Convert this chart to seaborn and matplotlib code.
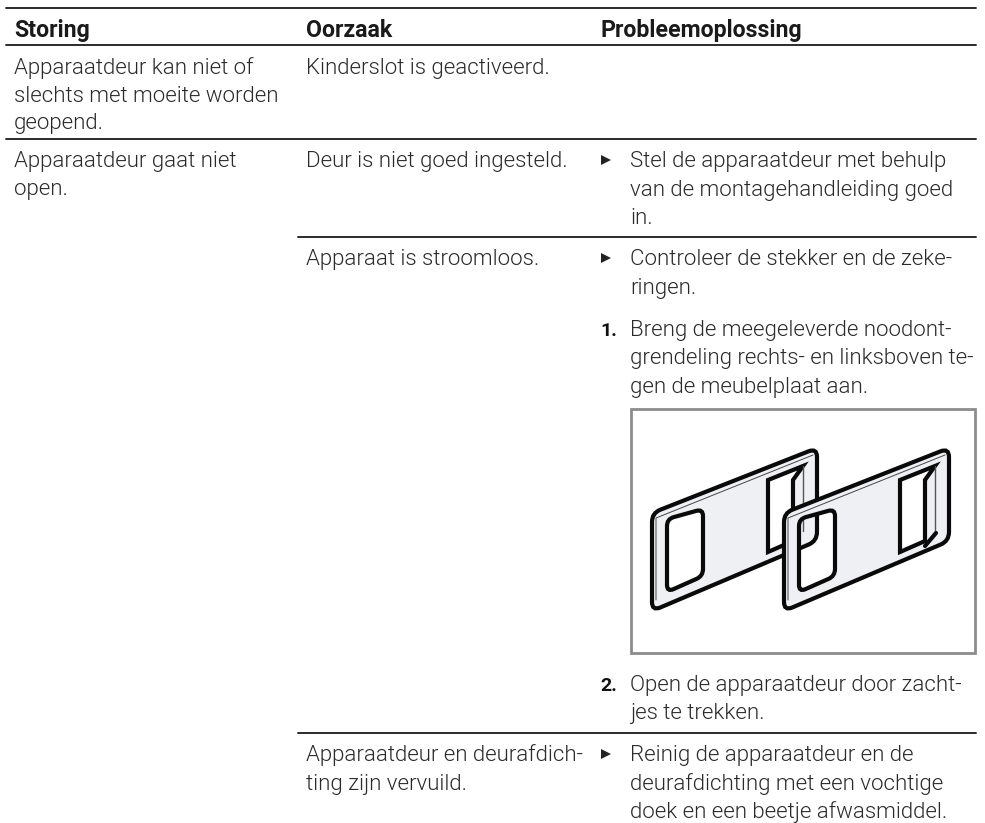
import matplotlib
matplotlib.use("Agg")
import matplotlib.pyplot as plt
import seaborn as sns
import pandas as pd
import numpy as np
from matplotlib.patches import Polygon, Rectangle, PathPatch
from matplotlib.path import Path

W, H = 985, 823
sns.set_theme(style="white")
plt.rcParams['font.family'] = ['Roboto', 'Liberation Sans', 'DejaVu Sans']

headers = ["Storing", "Oorzaak", "Probleemoplossing"]
header_x = [14, 306, 600]
col1 = [("Apparaatdeur kan niet of", 74), ("slechts met moeite worden", 102), ("geopend.", 129),
        ("Apparaatdeur gaat niet", 167), ("open.", 195)]
col2 = [("Kinderslot is geactiveerd.", 74), ("Deur is niet goed ingesteld.", 167),
        ("Apparaat is stroomloos.", 265), ("Apparaatdeur en deurafdich-", 761), ("ting zijn vervuild.", 790)]
col3 = [("Stel de apparaatdeur met behulp", 167), ("van de montagehandleiding goed", 196), ("in.", 224),
        ("Controleer de stekker en de zeke-", 265), ("ringen.", 294),
        ("Breng de meegeleverde noodont-", 336), ("grendeling rechts- en linksboven te-", 364),
        ("gen de meubelplaat aan.", 393),
        ("Open de apparaatdeur door zacht-", 691), ("jes te trekken.", 719),
        ("Reinig de apparaatdeur en de", 761), ("deurafdichting met een vochtige", 790),
        ("doek en een beetje afwasmiddel.", 818)]
bullets_y = [167, 265, 761]
numbers = [("1.", 336), ("2.", 691)]
rules = pd.DataFrame({
    "rule": ["top", "top", "head", "head", "r1", "r1", "r2", "r2", "r3", "r3"],
    "x": [6, 976, 6, 976, 6, 976, 298, 976, 298, 976],
    "y": [8, 8, 45, 45, 139, 139, 237, 237, 733, 733],
})

fig = plt.figure(figsize=(W / 100, H / 100), dpi=100)
ax = fig.add_axes([0, 0, 1, 1])
sns.lineplot(data=rules, x="x", y="y", units="rule", estimator=None, color="#2b2b2b", lw=1.4, ax=ax, legend=False)
ax.set_xlim(0, W)
ax.set_ylim(H, 0)
ax.axis("off")

TXT = "#2a2a2a"
FS = 16.0
WT = 300
for s, x in zip(headers, header_x):
    ax.text(x, 37, s, fontsize=16.7, fontweight="bold", color="#1a1a1a", va="baseline")
for s, y in col1:
    ax.text(14, y, s, fontsize=FS, fontweight=WT, color=TXT, va="baseline")
for s, y in col2:
    ax.text(306, y, s, fontsize=FS, fontweight=WT, color=TXT, va="baseline")
for s, y in col3:
    ax.text(630, y, s, fontsize=FS, fontweight=WT, color=TXT, va="baseline")
for s, y in numbers:
    ax.text(600, y, s, fontsize=FS - 2, fontweight="bold", color="#111111", va="baseline")
for y in bullets_y:
    ax.add_patch(Polygon([(601, y - 12), (601, y - 2), (611, y - 7)], closed=True, fc="#222222", ec="none"))

# illustration frame
ax.add_patch(Rectangle((631, 409), 344, 244, fc="white", ec="#8c8c8c", lw=2))


def rounded(pts, r):
    verts, codes = [], []
    n = len(pts)
    for i in range(n):
        p0 = np.array(pts[i - 1], float)
        p = np.array(pts[i], float)
        p1 = np.array(pts[(i + 1) % n], float)
        a = p + (p0 - p) / np.linalg.norm(p0 - p) * r
        b = p + (p1 - p) / np.linalg.norm(p1 - p) * r
        verts.append(a)
        codes.append(Path.MOVETO if i == 0 else Path.LINETO)
        verts += [p, b]
        codes += [Path.CURVE3, Path.CURVE3]
    verts.append(verts[0])
    codes.append(Path.CLOSEPOLY)
    return Path(verts, codes)


def plate(dx, z, tip):
    outer = [(652 + dx, 513), (817 + dx, 448), (817 + dx, 541), (652 + dx, 611)]
    hole_l = [(667 + dx, 519), (667 + dx, 592), (703 + dx, 576), (703 + dx, 509)]
    hole_r = [(768 + dx, 480), (768 + dx, 552), (793 + dx, 541), (793 + dx, 480), (803 + dx, 466)]
    path = Path.make_compound_path(rounded(outer, 9), rounded(hole_l, 7),
                                   Path(hole_r + [hole_r[0]],
                                        [Path.MOVETO] + [Path.LINETO] * 4 + [Path.CLOSEPOLY]))
    ax.add_patch(PathPatch(path, fc="#eef0f4", ec="#0a0a0a", lw=3.0, zorder=z))
    ax.add_line(plt.Line2D([656 + dx, 656 + dx, 813 + dx], [600, 518, 455],
                           color="#444444", lw=0.7, zorder=z))
    ax.add_line(plt.Line2D([803 + dx, 803 + dx], [466, 531], color="#555555", lw=1.0, zorder=z))
    if tip:
        ax.add_line(plt.Line2D([793 + dx, 804 + dx], [546, 533], color="#0a0a0a", lw=3.0, zorder=z))


plate(0, 3, False)
plate(132, 4, True)

fig.savefig("out.png", dpi=100)
